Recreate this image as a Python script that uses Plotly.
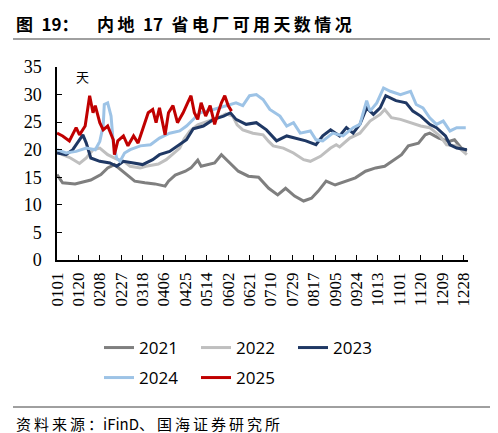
import plotly.graph_objects as go

# day of year index (0 = Jan 1) and values
tick_days = [0, 19, 38, 57, 76, 95, 114, 133, 152, 171, 190, 209, 228, 247, 266, 285, 304, 323, 342, 361]
tick_labels = ['0101', '0120', '0208', '0227', '0318', '0406', '0425', '0514', '0602', '0621',
               '0710', '0729', '0817', '0905', '0924', '1013', '1101', '1120', '1209', '1228']

days_2021 = [0, 5, 16, 30, 39, 45, 51, 60, 69, 78, 87, 96, 99, 105, 114, 119, 125, 128, 134, 140,
             146, 152, 161, 170, 179, 188, 196, 203, 211, 219, 226, 232, 239, 247, 256, 265, 274,
             283, 291, 297, 306, 312, 321, 327, 331, 339, 348, 353, 359, 364]
vals_2021 = [15.5, 14.0, 13.8, 14.5, 15.5, 16.7, 17.3, 15.8, 14.3, 14.0, 13.8, 13.4, 14.3, 15.4, 16.1,
             16.7, 18.1, 17.0, 17.3, 17.6, 19.1, 17.9, 16.1, 15.2, 15.0, 13.0, 11.8, 13.0, 11.6, 10.7,
             11.2, 12.5, 14.3, 13.6, 14.3, 14.9, 16.1, 16.7, 17.0, 17.9, 19.1, 20.7, 21.2, 22.7, 23.0,
             22.1, 21.5, 21.8, 20.3, 19.8]

days_2022 = [0, 5, 12, 20, 26, 32, 38, 45, 53, 60, 65, 74, 79, 90, 97, 103, 109, 113, 118, 125, 134,
             143, 150, 156, 160, 165, 174, 183, 188, 192, 201, 210, 219, 225, 234, 243, 248, 251, 260,
             269, 278, 287, 291, 297, 305, 314, 323, 331, 340, 346, 355, 364]
vals_2022 = [19.8, 19.1, 18.5, 17.5, 18.5, 20.0, 20.3, 19.1, 18.3, 17.8, 17.0, 16.7, 17.0, 17.4, 18.2,
             19.3, 20.3, 22.0, 23.4, 24.5, 25.2, 25.8, 26.5, 26.1, 24.5, 23.6, 23.0, 22.7, 21.5, 20.7,
             20.3, 19.4, 18.2, 17.9, 18.8, 20.3, 20.9, 20.5, 22.1, 23.0, 25.2, 26.4, 27.3, 25.8, 25.5,
             24.9, 24.3, 24.0, 22.5, 20.9, 20.7, 19.1]

days_2023 = [0, 8, 14, 20, 23, 26, 30, 38, 47, 53, 59, 68, 76, 85, 91, 100, 109, 115, 121, 130, 139,
             148, 154, 159, 168, 177, 186, 195, 204, 212, 221, 230, 236, 243, 248, 251, 257, 263, 269,
             275, 281, 287, 292, 301, 310, 316, 323, 331, 337, 345, 349, 355, 364]
vals_2023 = [19.4, 19.1, 20.0, 21.8, 22.7, 21.2, 18.5, 17.9, 17.6, 17.0, 17.9, 17.6, 17.3, 18.2, 19.1,
             19.7, 20.9, 21.8, 23.8, 24.3, 25.5, 26.1, 26.7, 25.5, 24.6, 24.9, 23.6, 21.6, 22.5, 22.1,
             21.6, 20.9, 22.5, 23.6, 23.0, 22.5, 24.0, 23.0, 24.6, 27.6, 26.4, 27.6, 29.8, 28.9, 28.5,
             27.0, 26.1, 24.6, 24.0, 22.5, 20.9, 20.3, 20.0]

days_2024 = [0, 8, 17, 26, 34, 38, 41, 42, 45, 48, 50, 53, 56, 60, 65, 74, 83, 91, 100, 109, 115, 121,
             127, 139, 150, 159, 165, 171, 177, 183, 189, 198, 204, 210, 216, 225, 230, 236, 245, 254,
             263, 269, 275, 278, 284, 290, 296, 305, 314, 319, 325, 331, 337, 343, 349, 355, 363]
vals_2024 = [20.0, 19.4, 19.7, 20.3, 20.0, 21.5, 24.3, 28.2, 28.5, 26.1, 21.2, 18.5, 17.9, 19.4, 20.0,
             20.7, 20.9, 22.1, 23.0, 23.4, 24.3, 25.5, 26.7, 27.3, 28.0, 28.5, 28.0, 29.8, 30.0, 29.1,
             27.3, 26.1, 24.3, 24.9, 23.0, 23.4, 21.8, 21.6, 23.0, 22.5, 24.0, 24.6, 28.9, 27.0, 28.5,
             31.2, 30.6, 30.0, 30.6, 28.2, 27.6, 25.8, 24.6, 25.2, 23.4, 24.0, 24.0]

days_2025 = [0, 5, 11, 17, 20, 25, 29, 32, 34, 38, 41, 45, 50, 51, 54, 59, 63, 68, 72, 76, 81, 85, 88,
             91, 96, 99, 103, 107, 112, 116, 119, 122, 125, 128, 132, 136, 140, 143, 146, 149, 152, 155]
vals_2025 = [23.0, 22.5, 21.6, 24.0, 22.7, 24.3, 29.8, 26.7, 28.0, 24.9, 23.6, 24.3, 21.8, 19.1, 21.6,
             22.5, 20.7, 22.5, 21.2, 23.6, 26.7, 27.3, 24.9, 27.6, 22.7, 26.7, 28.0, 24.9, 26.7, 28.5,
             29.8, 26.7, 25.5, 28.5, 26.1, 28.0, 24.6, 26.7, 28.5, 29.8, 28.0, 27.0]

series = [
    ('2021', days_2021, vals_2021, '#7f7f7f', 'legend'),
    ('2022', days_2022, vals_2022, '#bfbfbf', 'legend'),
    ('2023', days_2023, vals_2023, '#1f3864', 'legend'),
    ('2024', days_2024, vals_2024, '#9dc3e6', 'legend2'),
    ('2025', days_2025, vals_2025, '#c00000', 'legend2'),
]

fig = go.Figure()
for name, d, v, color, leg in series:
    fig.add_trace(go.Scatter(x=d, y=v, name=name, mode='lines',
                             line=dict(color=color, width=3), legend=leg))

# plot area in pixels: left 49, right 460, top 59, bottom 252
def px_x(px):
    return (px - 49) / 411

def px_y(py):
    return (252 - py) / 193

def spaced(s):
    # the original report sets its Chinese captions with wide letter spacing
    return '\u2009'.join(s)

serif = 'Liberation Serif'
cjk = 'Noto Sans CJK SC'

fig.update_layout(
    width=498, height=433,
    margin=dict(l=49, r=38, t=59, b=181),
    paper_bgcolor='white', plot_bgcolor='white',
    showlegend=True,
    xaxis=dict(range=[0, 365], tickvals=tick_days, ticktext=tick_labels, tickangle=-90,
               ticks='inside', ticklen=5, tickcolor='black', showline=True, linecolor='black',
               linewidth=1.5, showgrid=False, zeroline=False, ticklabelstandoff=4,
               tickfont=dict(family=serif, size=17, color='black')),
    yaxis=dict(range=[0, 35], dtick=5, ticks='inside', ticklen=5, tickcolor='black',
               showline=True, linecolor='black', linewidth=1.5, showgrid=False, zeroline=False,
               ticklabelstandoff=10,
               tickfont=dict(family=serif, size=18, color='black')),
    legend=dict(orientation='h', x=px_x(91), y=px_y(340), xanchor='left', yanchor='middle',
                entrywidth=52, font=dict(family='Open Sans', size=17, color='black'),
                bgcolor='rgba(0,0,0,0)'),
    legend2=dict(orientation='h', x=px_x(91), y=px_y(370), xanchor='left', yanchor='middle',
                 entrywidth=52, font=dict(family='Open Sans', size=17, color='black'),
                 bgcolor='rgba(0,0,0,0)'),
)

fig.add_annotation(text='<b>图\u200219：</b>', xref='paper', yref='paper',
                   x=px_x(6), y=px_y(15), xanchor='left', yanchor='middle', showarrow=False,
                   font=dict(family=cjk, size=17, color='black'))
fig.add_annotation(text='<b>' + spaced('内地') + '\u2002' + '17' + '\u2002' + spaced('省电厂可用天数情况') + '</b>',
                   xref='paper', yref='paper',
                   x=px_x(87), y=px_y(15), xanchor='left', yanchor='middle', showarrow=False,
                   font=dict(family=cjk, size=17, color='black'))
fig.add_annotation(text='天', xref='paper', yref='paper', x=px_x(66), y=px_y(68),
                   xanchor='left', yanchor='middle', showarrow=False,
                   font=dict(family=cjk, size=13, color='black'))
fig.add_annotation(text=spaced('资料来源：') + 'iFinD' + spaced('、国海证券研究所'),
                   xref='paper', yref='paper',
                   x=px_x(6), y=px_y(415), xanchor='left', yanchor='middle', showarrow=False,
                   font=dict(family=cjk, size=15, color='black'))

fig.add_shape(type='line', xref='paper', yref='paper', x0=px_x(5), x1=px_x(493),
              y0=px_y(31), y1=px_y(31), line=dict(color='#808080', width=1.5))
fig.add_shape(type='line', xref='paper', yref='paper', x0=px_x(5), x1=px_x(493),
              y0=px_y(399), y1=px_y(399), line=dict(color='#404040', width=1))

fig.write_html("out.html")
